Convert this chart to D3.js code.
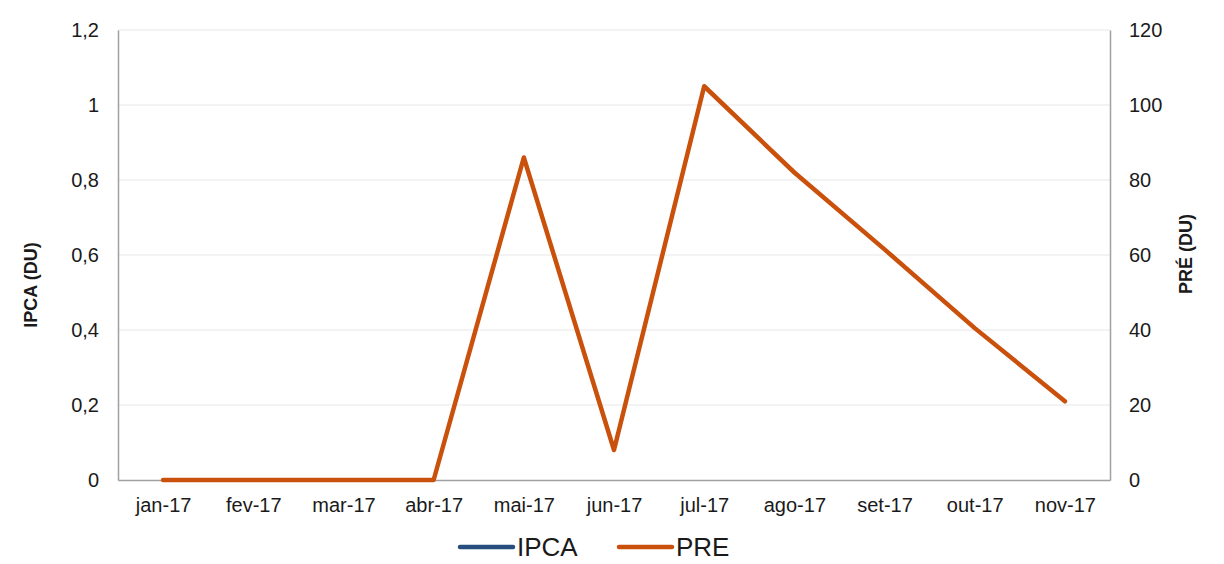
<!DOCTYPE html>
<html>
<head>
<meta charset="utf-8">
<script src="https://cdn.jsdelivr.net/npm/d3@7"></script>
<style>
	body { margin: 0; background: white; }
	text { font-family: "Liberation Sans", Arial, sans-serif; fill: #1a1a1a; }
</style>
</head>
<body>
<script>
//months on the x axis
var months = ["jan-17","fev-17","mar-17","abr-17","mai-17","jun-17","jul-17","ago-17","set-17","out-17","nov-17"];
//IPCA has no values plotted
var ipca = [null,null,null,null,null,null,null,null,null,null,null];
var pre = [0,0,0,0,86,8,105,82,61.5,40.5,21];
var leftTicks = [0,0.2,0.4,0.6,0.8,1,1.2];
var rightTicks = [0,20,40,60,80,100,120];

var w = 1224, h = 564,
	margin = {top: 30, right: 114, bottom: 84, left: 118};

var svg = d3.select("body").append("svg")
	.attr("width", w)
	.attr("height", h);

var x = d3.scalePoint()
	.domain(months)
	.range([margin.left, w - margin.right])
	.padding(0.5);

var yL = d3.scaleLinear().domain([0,1.2]).range([h - margin.bottom, margin.top]);
var yR = d3.scaleLinear().domain([0,120]).range([h - margin.bottom, margin.top]);

var fmt = function(d){ return String(d).replace(".", ","); };

//gridlines
svg.append("g").selectAll("line")
	.data(leftTicks.filter(function(d){ return d > 0; }))
	.enter().append("line")
	.attr("x1", margin.left).attr("x2", w - margin.right)
	.attr("y1", function(d){ return yL(d); })
	.attr("y2", function(d){ return yL(d); })
	.attr("stroke", "#efefef")
	.attr("stroke-width", 1.5);

//left axis
var gl = svg.append("g")
	.attr("transform", "translate(" + margin.left + ",0)")
	.call(d3.axisLeft(yL).tickValues(leftTicks).tickFormat(fmt).tickSize(0).tickPadding(19));
gl.select(".domain").attr("stroke", "#a0a0a0").attr("stroke-width", 1.5);
gl.selectAll("text").style("font-size", "20px").style("font-family", "Liberation Sans, Arial");

//right axis
var gr = svg.append("g")
	.attr("transform", "translate(" + (w - margin.right) + ",0)")
	.call(d3.axisRight(yR).tickValues(rightTicks).tickSize(0).tickPadding(19));
gr.select(".domain").attr("stroke", "#a0a0a0").attr("stroke-width", 1.5);
gr.selectAll("text").style("font-size", "20px").style("font-family", "Liberation Sans, Arial");

//bottom axis
var gb = svg.append("g")
	.attr("transform", "translate(0," + (h - margin.bottom) + ")")
	.call(d3.axisBottom(x).tickSize(0).tickPadding(18));
gb.select(".domain").attr("stroke", "#a0a0a0").attr("stroke-width", 1.5);
gb.selectAll("text").style("font-size", "20px").style("font-family", "Liberation Sans, Arial");

//axis titles
svg.append("text")
	.attr("transform", "translate(37,285) rotate(-90)")
	.attr("text-anchor", "middle")
	.style("font-size", "18px")
	.style("font-weight", "bold")
	.text("IPCA (DU)");

svg.append("text")
	.attr("transform", "translate(1192,254) rotate(-90)")
	.attr("text-anchor", "middle")
	.style("font-size", "18px")
	.style("font-weight", "bold")
	.text("PRÉ (DU)");

//lines
var lineL = d3.line()
	.defined(function(d){ return d != null; })
	.x(function(d,i){ return x(months[i]); })
	.y(function(d){ return yL(d); });
var lineR = d3.line()
	.defined(function(d){ return d != null; })
	.x(function(d,i){ return x(months[i]); })
	.y(function(d){ return yR(d); });

svg.append("path")
	.attr("d", lineL(ipca))
	.attr("fill", "none")
	.attr("stroke", "#264f7f")
	.attr("stroke-width", 4.5)
	.attr("stroke-linecap", "round");

svg.append("path")
	.attr("d", lineR(pre))
	.attr("fill", "none")
	.attr("stroke", "#c9510c")
	.attr("stroke-width", 4.5)
	.attr("stroke-linejoin", "round")
	.attr("stroke-linecap", "round");

//legend
var legend = [{name: "IPCA", color: "#264f7f", x: 460}, {name: "PRE", color: "#c9510c", x: 619}];
legend.forEach(function(l){
	svg.append("line")
		.attr("x1", l.x).attr("x2", l.x + 53)
		.attr("y1", 547).attr("y2", 547)
		.attr("stroke", l.color)
		.attr("stroke-width", 4.5)
		.attr("stroke-linecap", "round");
	svg.append("text")
		.attr("x", l.x + 57)
		.attr("y", 556)
		.style("font-size", "26px")
		.text(l.name);
});
</script>
</body>
</html>
